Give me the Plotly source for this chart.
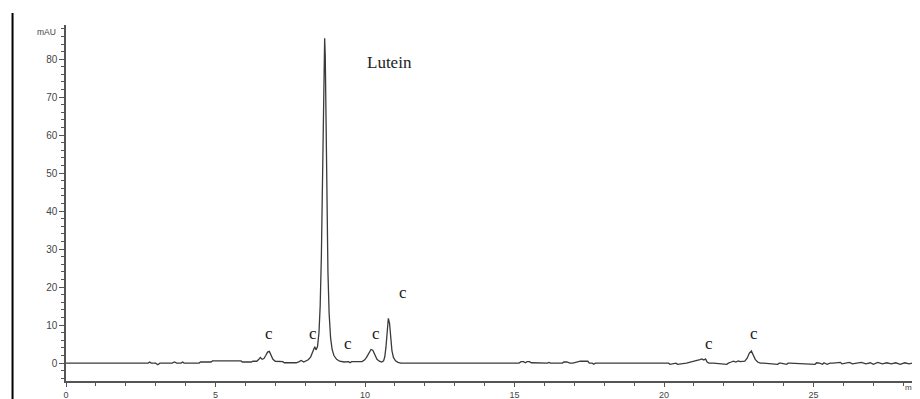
import plotly.graph_objects as go

# Retention time (min) and absorbance (mAU)
time_min = [
    0.0, 2.75, 2.8, 2.85, 3.0, 3.07, 3.14, 3.55, 3.63, 3.7, 3.85, 3.9, 3.95,
    4.45, 4.5, 4.85, 4.9, 5.5, 5.85, 5.9, 6.2, 6.25, 6.38, 6.45, 6.5, 6.56,
    6.62, 6.68, 6.74, 6.8, 6.86, 6.92, 7.0, 7.25, 7.3, 7.7, 7.8, 7.87, 7.95,
    8.02, 8.1, 8.18, 8.24, 8.29, 8.32, 8.36, 8.41, 8.46, 8.5, 8.54, 8.57,
    8.6, 8.63, 8.65, 8.67, 8.7, 8.73, 8.76, 8.8, 8.85, 8.9, 8.96, 9.05, 9.15,
    9.3, 9.45, 9.5, 9.55, 9.9, 9.98, 10.05, 10.12, 10.2, 10.26, 10.33, 10.4,
    10.48, 10.56, 10.62, 10.66, 10.7, 10.74, 10.78, 10.82, 10.86, 10.9,
    10.95, 11.02, 11.1, 11.2, 15.15, 15.22, 15.3, 15.36, 15.42, 15.5, 15.56,
    15.62, 15.7, 16.1, 16.15, 16.2, 16.6, 16.65, 16.75, 16.85, 16.95, 17.1,
    17.2, 17.35, 17.45, 17.5, 17.6, 17.65, 17.7, 20.1, 20.15, 20.2, 20.35,
    20.4, 20.45, 20.65, 20.7, 20.75, 21.2, 21.27, 21.33, 21.39, 21.44,
    21.5, 21.57, 21.65, 22.1, 22.15, 22.25, 22.32, 22.4, 22.48, 22.55,
    22.62, 22.7, 22.78, 22.85, 22.92, 22.98, 23.05, 23.13, 23.22, 23.32,
    23.8, 23.85, 23.9, 24.1, 24.15, 24.2, 25.05, 25.1, 25.2, 25.3, 25.35,
    25.45, 25.55, 25.65, 25.9, 25.95, 26.05, 26.2, 26.3, 26.45, 26.6,
    26.75, 26.9, 27.0, 27.15, 27.3, 27.45, 27.6, 27.75, 27.9, 28.05, 28.2,
    28.35, 28.5, 28.6,
]
signal_mau = [
    0.0, 0.0, 0.3, 0.0, 0.0, -0.4, 0.0, 0.0, 0.3, 0.0, 0.0, 0.3, 0.0,
    0.0, 0.3, 0.3, 0.6, 0.6, 0.6, 0.3, 0.3, 0.5, 0.5, 1.0, 1.5, 1.0,
    1.2, 2.0, 2.9, 3.1, 2.2, 1.0, 0.5, 0.4, 0.1, 0.1, 0.4, 0.7, 0.3,
    0.6, 0.9, 1.6, 2.8, 4.1, 4.3, 3.5, 4.3, 8.0, 15.0, 28.0, 42.0,
    60.0, 78.0, 85.5, 81.0, 62.0, 40.0, 24.0, 13.0, 6.5, 3.6, 2.0, 1.0, 0.5,
    0.3, 0.4, 0.1, 0.4, 0.4, 0.8, 1.5, 2.6, 3.6, 3.4, 2.2, 1.0,
    0.5, 0.3, 0.6, 1.6, 4.2, 8.5, 11.8, 10.5, 6.2, 3.3,
    1.5, 0.6, 0.2, 0.0, 0.0, 0.4, 0.4, 0.1, 0.4, 0.4, 0.1,
    0.1, 0.0, 0.0, 0.2, 0.0, 0.0, 0.3, 0.3, 0.0, 0.0, 0.3,
    0.5, 0.5, 0.5, 0.0, 0.0, -0.3, 0.0, 0.0, 0.0, -0.3, 0.0,
    0.0, -0.3, 0.0, 0.0, 0.0, 0.9, 1.1, 0.8, 1.1,
    0.3, 0.0, 0.0, 0.0, -0.3, 0.0, 0.3, 0.5, 0.3, 0.6,
    0.4, 0.5, 0.5, 1.3, 2.6, 3.2, 2.3, 1.0, 0.3, 0.0,
    0.0, -0.3, 0.0, 0.0, -0.3, 0.0, 0.0, -0.3, 0.1, 0.0, -0.3,
    0.1, -0.3, 0.0, 0.0, 0.2, -0.2, 0.0, 0.2, -0.2, 0.0,
    0.2, -0.2, 0.1, -0.3, 0.2, -0.2, 0.1, -0.2, 0.1, -0.3, 0.1,
    -0.2, 0.1, 0.0,
]

# Peak annotations
label_text = ["Lutein", "c", "c", "c", "c", "c", "c", "c"]
label_time = [10.82, 6.8, 8.25, 9.42, 10.38, 11.26, 21.5, 23.0]
label_mau = [79.2, 7.9, 7.9, 5.3, 7.9, 18.7, 5.3, 7.9]

y_ticks = [0, 10, 20, 30, 40, 50, 60, 70, 80]
x_ticks = [0, 5, 10, 15, 20, 25]

fig = go.Figure()
fig.add_trace(go.Scatter(
    x=time_min, y=signal_mau, mode="lines",
    line=dict(color="#3a3a3a", width=1.3), hoverinfo="skip",
    showlegend=False,
))

annotations = []
for t, x, y in zip(label_text, label_time, label_mau):
    annotations.append(dict(
        x=x, y=y, xref="x", yref="y", text=t, showarrow=False,
        font=dict(family="Liberation Serif", size=17, color="#222222"),
        xanchor="center", yanchor="middle",
    ))
annotations.append(dict(
    x=-0.009, y=87.2, xref="paper", yref="y", text="mAU", showarrow=False,
    font=dict(family="Liberation Sans", size=8.5, color="#444444"),
    xanchor="right", yanchor="middle",
))
annotations.append(dict(
    x=1.0, y=0.0, xref="paper", yref="paper", text="min", showarrow=False,
    font=dict(family="Liberation Sans", size=8, color="#444444"),
    xanchor="right", yanchor="top",
))

# The page body adds an 8 px offset, so the figure is 912x391 with margins
# chosen so that the plot area lands at x 66..920, y 25..381 on screen.
fig.update_layout(
    width=912, height=391,
    margin=dict(l=58, r=0, t=17, b=18),
    paper_bgcolor="white", plot_bgcolor="white",
    annotations=annotations,
    shapes=[dict(type="line", xref="paper", yref="paper",
                 x0=-0.0626, x1=-0.0626, y0=-0.06, y1=1.034,
                 line=dict(color="black", width=2))],
    xaxis=dict(
        range=[0, 28.56], tickvals=x_ticks, showgrid=False, zeroline=False,
        automargin=False,
        showline=True, linecolor="#555555", linewidth=1.5,
        ticks="outside", ticklen=4, tickcolor="#555555", tickwidth=1.2,
        ticklabelstandoff=0,
        minor=dict(dtick=1, ticks="outside", ticklen=3, tickcolor="#555555"),
        tickfont=dict(family="Liberation Sans", size=9, color="#444444"),
    ),
    yaxis=dict(
        range=[-4.7, 89.0], tickvals=y_ticks, showgrid=False, zeroline=False,
        automargin=False,
        showline=True, linecolor="#555555", linewidth=1.5,
        ticks="outside", ticklen=5, tickcolor="#555555", tickwidth=1.2,
        minor=dict(dtick=2, ticks="outside", ticklen=3, tickcolor="#555555"),
        tickfont=dict(family="Liberation Sans", size=10, color="#444444"),
    ),
)

fig.write_html("out.html")
